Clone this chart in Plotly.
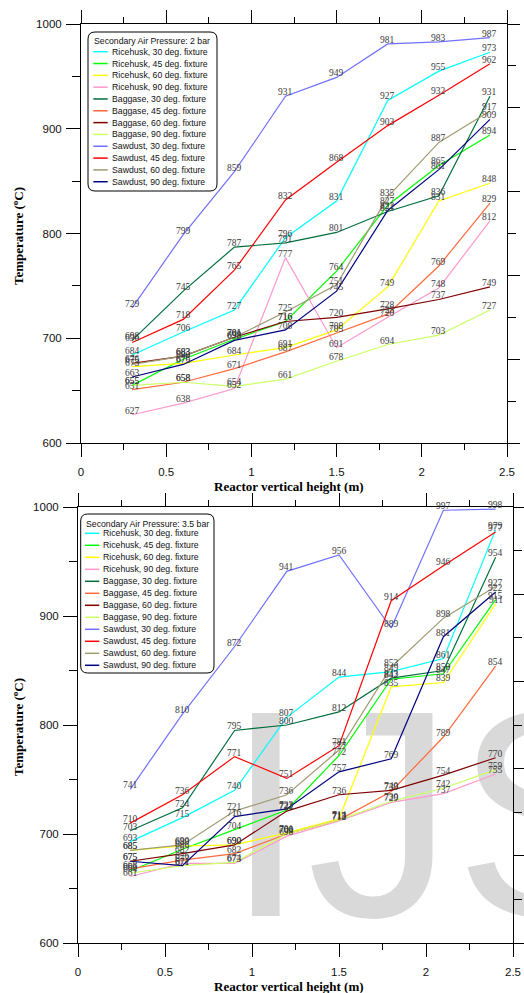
import plotly.graph_objects as go

# ---------------- data ----------------
heights = [0.3, 0.6, 0.9, 1.2, 1.5, 1.8, 2.1, 2.4]
x_tick_values = [0, 0.5, 1, 1.5, 2, 2.5]
x_tick_labels = ["0", "0.5", "1", "1.5", "2", "2.5"]
y_tick_values = [600, 700, 800, 900, 1000]
y_tick_labels = ["600", "700", "800", "900", "1000"]

series_names = [
    "Ricehusk, 30 deg. fixture", "Ricehusk, 45 deg. fixture",
    "Ricehusk, 60 deg. fixture", "Ricehusk, 90 deg. fixture",
    "Baggase, 30 deg. fixture", "Baggase, 45 deg. fixture",
    "Baggase, 60 deg. fixture", "Baggase, 90 deg. fixture",
    "Sawdust, 30 deg. fixture", "Sawdust, 45 deg. fixture",
    "Sawdust, 60 deg. fixture", "Sawdust, 90 deg. fixture",
]

# Secondary air pressure 2 bar
p2_ricehusk_30 = [684, 706, 727, 796, 831, 927, 955, 973]
p2_ricehusk_45 = [655, 680, 699, 716, 764, 827, 865, 894]
p2_ricehusk_60 = [673, 676, 684, 691, 708, 749, 831, 848]
p2_ricehusk_90 = [627, 638, 652, 777, 691, 720, 748, 812]
p2_baggase_30 = [698, 745, 787, 791, 801, 821, 836, 931]
p2_baggase_45 = [651, 658, 671, 687, 705, 723, 769, 829]
p2_baggase_60 = [676, 683, 701, 716, 720, 728, 737, 749]
p2_baggase_90 = [655, 658, 654, 661, 678, 694, 703, 727]
p2_sawdust_30 = [729, 799, 859, 931, 949, 981, 983, 987]
p2_sawdust_45 = [696, 718, 765, 832, 868, 903, 932, 962]
p2_sawdust_60 = [675, 683, 701, 725, 751, 835, 887, 917]
p2_sawdust_90 = [663, 675, 698, 708, 745, 822, 861, 909]

# Secondary air pressure 3.5 bar
p35_ricehusk_30 = [693, 715, 740, 807, 844, 849, 861, 979]
p35_ricehusk_45 = [666, 686, 704, 722, 772, 842, 847, 915]
p35_ricehusk_60 = [685, 689, 690, 701, 714, 835, 839, 911]
p35_ricehusk_90 = [661, 673, 673, 698, 712, 729, 737, 755]
p35_baggase_30 = [703, 724, 795, 800, 812, 843, 850, 954]
p35_baggase_45 = [668, 676, 682, 700, 713, 739, 789, 854]
p35_baggase_60 = [675, 682, 690, 721, 736, 740, 754, 770]
p35_baggase_90 = [664, 671, 674, 700, 713, 730, 742, 759]
p35_sawdust_30 = [741, 810, 872, 941, 956, 889, 997, 998]
p35_sawdust_45 = [710, 736, 771, 751, 781, 914, 946, 977]
p35_sawdust_60 = [685, 690, 721, 736, 777, 853, 898, 927]
p35_sawdust_90 = [675, 671, 716, 723, 757, 769, 881, 922]

series_2bar = [p2_ricehusk_30, p2_ricehusk_45, p2_ricehusk_60, p2_ricehusk_90,
               p2_baggase_30, p2_baggase_45, p2_baggase_60, p2_baggase_90,
               p2_sawdust_30, p2_sawdust_45, p2_sawdust_60, p2_sawdust_90]
series_35bar = [p35_ricehusk_30, p35_ricehusk_45, p35_ricehusk_60, p35_ricehusk_90,
                p35_baggase_30, p35_baggase_45, p35_baggase_60, p35_baggase_90,
                p35_sawdust_30, p35_sawdust_45, p35_sawdust_60, p35_sawdust_90]

# ---------------- style ----------------
colors = ["#00ffff", "#00ff00", "#ffff00", "#ff99cc",
          "#006f3c", "#ff6a3a", "#800000", "#ccff66",
          "#7070ff", "#ff0000", "#a09b73", "#000080"]

W, H = 524, 993


def px(x):
    return x / W


def py(y):
    return 1 - y / H


SERIF = "Liberation Serif"
SANS = "Liberation Sans"

fig = go.Figure()

panels = [
    dict(series=series_2bar, xa="x", ya="y", xdom=(81, 507), ydom=(24, 443)),
    dict(series=series_35bar, xa="x2", ya="y2", xdom=(78, 513), ydom=(507, 943)),
]

annotations = []
for p in panels:
    for name, col, vals in zip(series_names, colors, p["series"]):
        fig.add_trace(go.Scatter(
            x=heights, y=vals, mode="lines", name=name,
            line=dict(color=col, width=1.2),
            xaxis=p["xa"], yaxis=p["ya"], showlegend=False, hoverinfo="skip"))
        for xv, yv in zip(heights, vals):
            annotations.append(dict(
                x=xv, y=yv, xref=p["xa"], yref=p["ya"], text=str(yv),
                showarrow=False, xanchor="center", yanchor="middle", yshift=4,
                font=dict(family=SERIF, size=9.5, color="#3a3a3a")))

# empty traces to make the right-hand tick axes exist
fig.add_trace(go.Scatter(x=[], y=[], xaxis="x", yaxis="y3", showlegend=False))
fig.add_trace(go.Scatter(x=[], y=[], xaxis="x2", yaxis="y4", showlegend=False))

tickfont = dict(family=SANS, size=11.5, color="#111")


def xaxis_cfg(dom):
    return dict(
        domain=[px(dom[0]), px(dom[1])], range=[0, 2.5], automargin=False,
        tickmode="array", tickvals=x_tick_values, ticktext=x_tick_labels,
        ticks="outside", ticklen=13, tickwidth=1, tickcolor="black",
        showline=True, linecolor="black", linewidth=1, mirror="ticks",
        showgrid=False, zeroline=False, tickfont=tickfont, ticklabelstandoff=5,
        minor=dict(tickmode="linear", tick0=0, dtick=0.25, ticks="outside",
                   ticklen=6, tickcolor="black", tickwidth=1, showgrid=False),
        fixedrange=True)


def yaxis_cfg(dom, anchor):
    return dict(
        domain=[py(dom[1]), py(dom[0])], range=[600, 1000], anchor=anchor,
        automargin=False,
        tickmode="array", tickvals=y_tick_values, ticktext=y_tick_labels,
        ticks="outside", ticklen=14, tickwidth=1, tickcolor="black",
        showline=True, linecolor="black", linewidth=1,
        showgrid=False, zeroline=False, tickfont=tickfont, ticklabelstandoff=2,
        minor=dict(tickmode="linear", tick0=600, dtick=50, ticks="outside",
                   ticklen=8, tickcolor="black", tickwidth=1, showgrid=False),
        fixedrange=True)


def right_cfg(over, anchor):
    return dict(
        overlaying=over, side="right", anchor=anchor, range=[0, 10],
        automargin=False,
        tickmode="linear", tick0=0, dtick=2, ticks="outside", ticklen=12,
        tickcolor="black", showticklabels=False, showline=True,
        linecolor="black", linewidth=1, showgrid=False, zeroline=False,
        minor=dict(tickmode="linear", tick0=0, dtick=1, ticks="outside",
                   ticklen=8, tickcolor="black", showgrid=False),
        fixedrange=True)


fig.update_layout(
    xaxis=xaxis_cfg(panels[0]["xdom"]) | dict(anchor="y"),
    yaxis=yaxis_cfg(panels[0]["ydom"], "x"),
    xaxis2=xaxis_cfg(panels[1]["xdom"]) | dict(anchor="y2"),
    yaxis2=yaxis_cfg(panels[1]["ydom"], "x2"),
    yaxis3=right_cfg("y", "x"),
    yaxis4=right_cfg("y2", "x2"),
)

# axis titles
title_font = dict(family=SERIF, size=13, color="black")
for ycen in (236, 727):
    annotations.append(dict(
        x=px(18), y=py(ycen), xref="paper", yref="paper",
        text="<b>Temperature (<sup>o</sup>C)</b>", textangle=-90,
        showarrow=False, font=title_font, xanchor="center", yanchor="middle"))
for ycen in (487, 986):
    annotations.append(dict(
        x=px(289), y=py(ycen), xref="paper", yref="paper",
        text="<b>Reactor vertical height (m)</b>",
        showarrow=False, font=title_font, xanchor="center", yanchor="middle"))

# hand-drawn legends
shapes = []


def rounded_box(x0, y0, x1, y1, r=7):
    rx, ry = r / W, r / H
    X0, X1 = px(x0), px(x1)
    Yt, Yb = py(y0), py(y1)
    path = (f"M {X0+rx},{Yt} L {X1-rx},{Yt} Q {X1},{Yt} {X1},{Yt-ry} "
            f"L {X1},{Yb+ry} Q {X1},{Yb} {X1-rx},{Yb} "
            f"L {X0+rx},{Yb} Q {X0},{Yb} {X0},{Yb+ry} "
            f"L {X0},{Yt-ry} Q {X0},{Yt} {X0+rx},{Yt} Z")
    return dict(type="path", xref="paper", yref="paper", path=path,
                line=dict(color="black", width=1), fillcolor="white",
                layer="above")


legend_specs = [
    dict(title="Secondary Air Pressure: 2 bar", box=(88, 32, 217, 191),
         title_xy=(93.5, 41.5), y0=51.7, dy=11.82, lx=(93.3, 107.7), tx=112),
    dict(title="Secondary Air Pressure: 3.5 bar", box=(80.7, 514, 214, 673),
         title_xy=(85.5, 524.3), y0=533.3, dy=12.0, lx=(85, 99.3), tx=103),
]
legend_font = dict(family=SANS, size=8.7, color="#111")
for spec in legend_specs:
    shapes.append(rounded_box(*spec["box"]))
    annotations.append(dict(
        x=px(spec["title_xy"][0] - 2), y=py(spec["title_xy"][1]),
        xref="paper", yref="paper", text=spec["title"], showarrow=False,
        xanchor="left", yanchor="middle", font=legend_font))
    for i, (name, col) in enumerate(zip(series_names, colors)):
        yy = spec["y0"] + spec["dy"] * i
        shapes.append(dict(type="line", xref="paper", yref="paper",
                           x0=px(spec["lx"][0]), x1=px(spec["lx"][1]),
                           y0=py(yy), y1=py(yy),
                           line=dict(color=col, width=1.5), layer="above"))
        annotations.append(dict(
            x=px(spec["tx"] - 2), y=py(yy), xref="paper", yref="paper",
            text=name, showarrow=False, xanchor="left", yanchor="middle",
            font=legend_font))

# journal watermark (behind the data)
shapes.append(dict(
    type="rect", xref="paper", yref="paper",
    x0=px(388), x1=px(488), y0=py(836), y1=py(736),
    line=dict(width=0), fillcolor="rgba(0,0,0,0)", layer="below",
    label=dict(text="IJS", textposition="middle center",
               font=dict(family=SANS, size=295, color="#d9d9d9"))))

fig.update_layout(
    width=W, height=H, margin=dict(l=0, r=0, t=0, b=0, autoexpand=False),
    paper_bgcolor="white", plot_bgcolor="rgba(0,0,0,0)",
    showlegend=False, annotations=annotations, shapes=shapes,
)

fig.write_html("out.html")
